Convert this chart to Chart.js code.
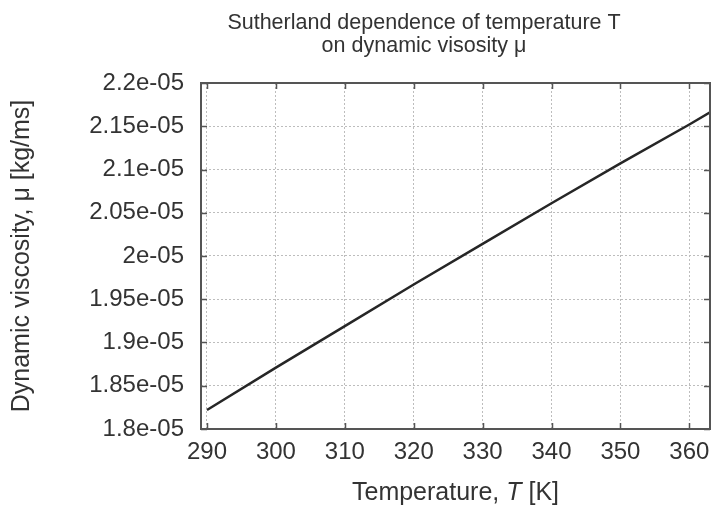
<!DOCTYPE html>
<html>
<head>
<meta charset="utf-8">
<title>Sutherland viscosity</title>
<script src="https://cdn.jsdelivr.net/npm/chart.js@4/dist/chart.umd.min.js"></script>
<style>
  html, body { margin: 0; padding: 0; background: #fff; }
  canvas { display: block; }
</style>
</head>
<body>
<canvas id="viscosityChart" width="714" height="508"></canvas>
<script>
// Temperature [K] and dynamic viscosity [kg/ms]
const temperatures = [290, 300, 310, 320, 330, 340, 350, 360, 363];
const viscosities = [
  1.822e-5, 1.871e-5, 1.919e-5, 1.967e-5, 2.014e-5,
  2.061e-5, 2.107e-5, 2.152e-5, 2.166e-5
];

// Axis ticks
const xTicks = [290, 300, 310, 320, 330, 340, 350, 360];
const yTicks = [
  1.8e-5, 1.85e-5, 1.9e-5, 1.95e-5, 2.0e-5,
  2.05e-5, 2.1e-5, 2.15e-5, 2.2e-5
];

const titleLines = ["Sutherland dependence of temperature T", "on dynamic visosity \u03bc"];
const yTitle = "Dynamic viscosity, \u03bc [kg/ms]";

const FONT = "'Liberation Sans', Arial, Helvetica, sans-serif";
const TEXT_COLOR = "#333";
const FRAME_COLOR = "#555";

// 1.85e-5 -> "1.85e-05"
function formatExp(v) {
  const s = Number(v.toPrecision(3)).toExponential();
  return s.replace(/e([+-])(\d)$/, "e$10$2");
}

// Frame, inward tick marks, title and x-axis label
const framePlugin = {
  id: "frame",
  afterDatasetsDraw(chart) {
    const { ctx, chartArea: a, scales } = chart;
    const len = 6;
    ctx.save();
    ctx.strokeStyle = FRAME_COLOR;
    ctx.lineWidth = 1.5;
    ctx.beginPath();
    xTicks.forEach((v) => {
      const px = Math.round(scales.x.getPixelForValue(v)) + 0.5;
      ctx.moveTo(px, a.bottom);
      ctx.lineTo(px, a.bottom - len);
      ctx.moveTo(px, a.top);
      ctx.lineTo(px, a.top + len);
    });
    yTicks.forEach((v) => {
      const py = Math.round(scales.y.getPixelForValue(v)) + 0.5;
      ctx.moveTo(a.left, py);
      ctx.lineTo(a.left + len, py);
      ctx.moveTo(a.right, py);
      ctx.lineTo(a.right - len, py);
    });
    ctx.stroke();
    ctx.lineWidth = 2;
    ctx.strokeRect(a.left, a.top, a.right - a.left, a.bottom - a.top);
    ctx.restore();
  },
  afterDraw(chart) {
    const { ctx, chartArea: a } = chart;
    ctx.save();
    ctx.fillStyle = TEXT_COLOR;
    ctx.textBaseline = "alphabetic";

    // title
    ctx.font = "21.5px " + FONT;
    ctx.textAlign = "center";
    ctx.fillText(titleLines[0], 424, 29);
    ctx.fillText(titleLines[1], 424, 52);

    // x-axis label with italic T
    const parts = [
      { text: "Temperature, ", font: "25px " + FONT },
      { text: "T", font: "italic 25px " + FONT },
      { text: " [K]", font: "25px " + FONT }
    ];
    let total = 0;
    parts.forEach((p) => {
      ctx.font = p.font;
      p.w = ctx.measureText(p.text).width;
      total += p.w;
    });
    let x = (a.left + a.right) / 2 - total / 2;
    ctx.textAlign = "left";
    parts.forEach((p) => {
      ctx.font = p.font;
      ctx.fillText(p.text, x, 500);
      x += p.w;
    });
    ctx.restore();
  }
};

const points = temperatures.map((t, i) => ({ x: t, y: viscosities[i] }));

new Chart(document.getElementById("viscosityChart"), {
  type: "line",
  data: {
    datasets: [
      {
        data: points,
        borderColor: "#262626",
        borderWidth: 2.5,
        pointRadius: 0,
        tension: 0,
        fill: false
      }
    ]
  },
  options: {
    responsive: false,
    animation: false,
    devicePixelRatio: 1,
    layout: { padding: { top: 83, right: 4, bottom: 0, left: 0 } },
    plugins: {
      legend: { display: false },
      tooltip: { enabled: false },
      title: { display: false }
    },
    scales: {
      x: {
        type: "linear",
        min: 289.13,
        max: 363,
        afterBuildTicks: (scale) => {
          scale.ticks = xTicks.map((v) => ({ value: v }));
        },
        afterFit: (scale) => {
          scale.height = 79;
          scale.paddingLeft = 0;
          scale.paddingRight = 0;
        },
        grid: { color: "#bdbdbd", lineWidth: 1, drawTicks: false },
        border: { display: false, dash: [2, 2] },
        ticks: {
          color: TEXT_COLOR,
          font: { family: FONT, size: 24 },
          padding: 9,
          maxRotation: 0,
          autoSkip: false
        }
      },
      y: {
        type: "linear",
        min: 1.8e-5,
        max: 2.2e-5,
        afterBuildTicks: (scale) => {
          scale.ticks = yTicks.map((v) => ({ value: v }));
        },
        afterFit: (scale) => {
          scale.width = 201;
        },
        grid: { color: "#bdbdbd", lineWidth: 1, drawTicks: false },
        border: { display: false, dash: [2, 2] },
        ticks: {
          color: TEXT_COLOR,
          font: { family: FONT, size: 24 },
          padding: 17,
          autoSkip: false,
          callback: (v) => formatExp(v)
        },
        title: {
          display: true,
          text: yTitle,
          color: TEXT_COLOR,
          font: { family: FONT, size: 25 },
          padding: { top: 7, bottom: 0 }
        }
      }
    }
  },
  plugins: [framePlugin]
});
</script>
</body>
</html>
